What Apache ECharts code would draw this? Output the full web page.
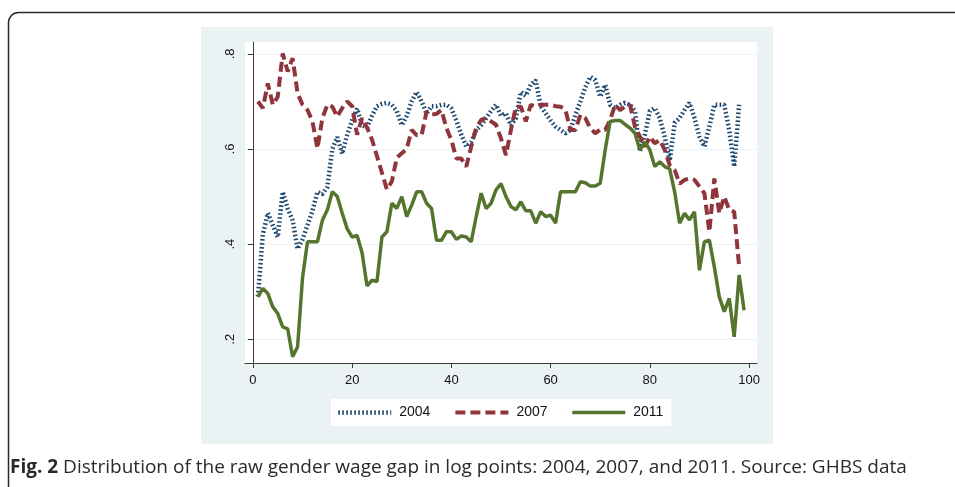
<!DOCTYPE html>
<html><head><meta charset="utf-8">
<script src="https://cdn.jsdelivr.net/npm/echarts@6/dist/echarts.min.js"></script>
<style>html,body{margin:0;padding:0;background:#fff;} #c{width:955px;height:487px;}</style>
</head><body><div id="c"></div>
<script>
// ---- data ----
const percentiles = [1,2,3,4,5,6,7,8,9,10,11,12,13,14,15,16,17,18,19,20,21,22,23,24,25,26,27,28,29,30,31,32,33,34,35,36,37,38,39,40,41,42,43,44,45,46,47,48,49,50,51,52,53,54,55,56,57,58,59,60,61,62,63,64,65,66,67,68,69,70,71,72,73,74,75,76,77,78,79,80,81,82,83,84,85,86,87,88,89,90,91,92,93,94,95,96,97,98,99];
const gap2004 = [0.29,0.42,0.465,0.44,0.415,0.51,0.475,0.45,0.39,0.41,0.44,0.47,0.51,0.505,0.52,0.60,0.625,0.59,0.63,0.66,0.685,0.65,0.645,0.67,0.69,0.695,0.697,0.693,0.68,0.65,0.67,0.70,0.72,0.70,0.675,0.69,0.69,0.693,0.693,0.685,0.66,0.63,0.605,0.615,0.64,0.65,0.665,0.68,0.693,0.67,0.675,0.65,0.665,0.72,0.712,0.735,0.745,0.69,0.675,0.66,0.647,0.64,0.633,0.64,0.672,0.70,0.73,0.752,0.745,0.71,0.735,0.693,0.686,0.693,0.697,0.693,0.68,0.595,0.63,0.68,0.686,0.665,0.626,0.575,0.655,0.665,0.682,0.697,0.665,0.626,0.605,0.647,0.693,0.693,0.693,0.64,0.563,0.693];
const gap2007 = [0.700,0.686,0.738,0.693,0.710,0.801,0.763,0.791,0.717,0.693,0.682,0.658,0.601,0.665,0.693,0.689,0.668,0.686,0.700,0.690,0.630,0.665,0.645,0.620,0.585,0.550,0.515,0.532,0.582,0.591,0.600,0.640,0.629,0.629,0.679,0.672,0.674,0.682,0.644,0.619,0.580,0.580,0.563,0.605,0.644,0.661,0.665,0.658,0.651,0.622,0.587,0.640,0.689,0.689,0.658,0.693,0.689,0.693,0.693,0.693,0.690,0.689,0.682,0.640,0.640,0.672,0.665,0.644,0.633,0.641,0.640,0.661,0.693,0.682,0.689,0.693,0.647,0.626,0.605,0.626,0.612,0.619,0.598,0.566,0.556,0.527,0.535,0.538,0.535,0.521,0.507,0.426,0.538,0.465,0.500,0.472,0.468,0.352];
const gap2011 = [0.289,0.307,0.296,0.268,0.254,0.226,0.222,0.163,0.184,0.330,0.405,0.405,0.405,0.450,0.472,0.510,0.500,0.465,0.432,0.415,0.418,0.382,0.312,0.324,0.321,0.415,0.426,0.486,0.475,0.500,0.458,0.482,0.510,0.510,0.486,0.475,0.408,0.408,0.426,0.426,0.410,0.417,0.415,0.405,0.458,0.507,0.475,0.486,0.514,0.527,0.500,0.479,0.472,0.489,0.470,0.470,0.444,0.468,0.458,0.461,0.444,0.510,0.510,0.510,0.510,0.531,0.529,0.522,0.522,0.528,0.598,0.658,0.660,0.660,0.652,0.644,0.633,0.598,0.615,0.598,0.563,0.573,0.563,0.558,0.510,0.444,0.465,0.451,0.468,0.345,0.405,0.408,0.352,0.289,0.258,0.286,0.205,0.335,0.261];
const seriesNames = ['2004','2007','2011'];
const xTicks = [0,20,40,60,80,100];
const yTicks = [0.2,0.4,0.6,0.8];
const captionBold = 'Fig. 2';
const captionText = 'Distribution of the raw gender wage gap in log points: 2004, 2007, and 2011. Source: GHBS data';

function pairs(vals){ return vals.map((v,i)=>[percentiles[i], v]); }

const chart = echarts.init(document.getElementById('c'), null, {renderer:'canvas'});
const axisCol = '#3c3c3c';
chart.setOption({
  animation:false,
  backgroundColor:'#fff',
  graphic:[
    {type:'rect', z:-10, shape:{x:8.5,y:12.5,width:980,height:520,r:10}, style:{fill:'#fff',stroke:'#2a2a2a',lineWidth:1.5}},
    {type:'rect', z:-9, shape:{x:201,y:27,width:572,height:417}, style:{fill:'#eaf2f3'}}
  ],
  title:{
    left:10, top:458, padding:0,
    text:'{b|'+captionBold+'} '+captionText,
    textStyle:{fontFamily:'Open Sans', fontSize:19, fontWeight:'normal', color:'#2a2a2a',
      rich:{b:{fontFamily:'Open Sans', fontSize:19, fontWeight:'bold', color:'#2a2a2a'}}}
  },
  grid:{left:245, top:42, width:512, height:321, show:true, backgroundColor:'#fff', borderWidth:0, containLabel:false},
  legend:{
    left:331, top:399, backgroundColor:'#fff',
    padding:[6.5,8,6.5,5], itemWidth:53, itemHeight:12, itemGap:23,
    itemStyle:{opacity:0},
    lineStyle:{width:'inherit', type:'inherit'},
    textStyle:{fontFamily:'Liberation Sans', fontSize:14, color:'#111', padding:[0,0,0,3]},
    data:seriesNames
  },
  xAxis:{type:'value', min:-1.6, max:101.6,
    axisLine:{show:true, onZero:false, lineStyle:{color:axisCol,width:1}},
    axisTick:{show:true, length:5, customValues:xTicks, lineStyle:{color:axisCol}},
    axisLabel:{customValues:xTicks, margin:11, fontFamily:'Liberation Sans', fontSize:13, color:'#111'},
    splitLine:{show:false}
  },
  yAxis:{type:'value', min:0.15, max:0.825,
    axisLine:{show:true, lineStyle:{color:axisCol,width:1}},
    axisTick:{show:true, length:5, customValues:yTicks, lineStyle:{color:axisCol}},
    axisLabel:{customValues:yTicks, rotate:90, margin:8, fontFamily:'Liberation Sans', fontSize:13, color:'#111',
      formatter:function(v){return String(Math.round(v*10)/10).replace(/^0\./,'.');}},
    splitLine:{show:true, lineStyle:{color:'#eaf2f3', width:1.2}}
  },
  series:[
    {name:seriesNames[0], type:'line', data:pairs(gap2004), symbol:'none', z:3,
      lineStyle:{color:'#1a476f', width:4.5, type:[1.6,2.4], cap:'butt'}, itemStyle:{color:'#1a476f'}},
    {name:seriesNames[1], type:'line', data:pairs(gap2007), symbol:'none', z:4,
      lineStyle:{color:'#90353b', width:4, type:[10,5], cap:'butt'}, itemStyle:{color:'#90353b'}},
    {name:seriesNames[2], type:'line', data:pairs(gap2011), symbol:'none', z:5,
      lineStyle:{color:'#55752f', width:3.5, type:'solid'}, itemStyle:{color:'#55752f'}}
  ]
});
</script></body></html>
